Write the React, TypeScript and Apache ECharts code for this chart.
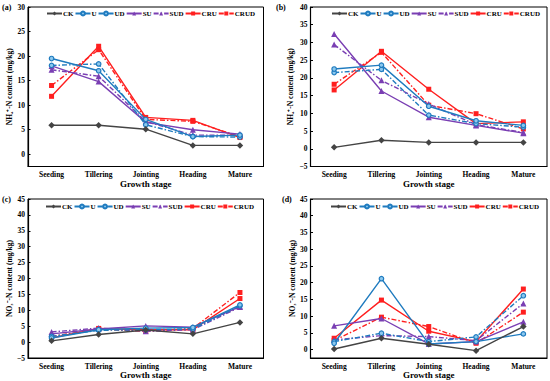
import React, { useEffect, useRef } from 'react';
import * as echarts from 'echarts';

const stages = ['Seeding', 'Tillering', 'Jointing', 'Heading', 'Mature'];
const seriesNames = ['CK', 'U', 'UD', 'SU', 'SUD', 'CRU', 'CRUD'];

// (a) NH4+-N
const a_CK = [5.9, 5.9, 5.1, 1.8, 1.8];
const a_U = [19.5, 17.0, 7.1, 3.6, 3.9];
const a_UD = [18.1, 18.4, 6.0, 3.6, 3.5];
const a_SU = [18.0, 14.8, 6.5, 5.0, 4.1];
const a_SUD = [17.2, 15.9, 6.7, 3.9, 3.9];
const a_CRU = [11.8, 22.0, 7.5, 6.9, 3.4];
const a_CRUD = [14.0, 21.3, 7.1, 6.7, 3.6];

// (b) NH4+-N
const b_CK = [0.4, 2.4, 1.8, 1.8, 1.8];
const b_U = [22.5, 23.6, 12.0, 7.9, 6.6];
const b_UD = [21.5, 22.4, 9.5, 7.1, 6.1];
const b_SU = [32.4, 16.3, 8.9, 6.6, 4.4];
const b_SUD = [29.4, 19.3, 12.6, 6.8, 4.6];
const b_CRU = [16.6, 27.5, 16.8, 7.1, 7.6];
const b_CRUD = [18.2, 27.2, 12.3, 9.9, 5.6];

// (c) NO3--N
const c_CK = [0.4, 2.4, 3.8, 2.6, 6.2];
const c_U = [1.3, 3.9, 4.4, 4.6, 11.7];
const c_UD = [1.8, 3.7, 3.9, 4.1, 11.4];
const c_SU = [2.6, 4.1, 5.1, 4.7, 11.2];
const c_SUD = [3.2, 4.4, 3.4, 3.9, 11.0];
const c_CRU = [1.3, 4.3, 3.9, 3.9, 13.7];
const c_CRUD = [1.8, 4.1, 3.4, 4.3, 15.6];

// (d) NO3--N
const d_CK = [0.2, 3.4, 1.6, -0.3, 6.9];
const d_U = [1.9, 21.2, 1.7, 2.4, 4.7];
const d_UD = [2.4, 4.9, 2.4, 3.8, 16.1];
const d_SU = [7.1, 9.3, 1.7, 2.4, 8.3];
const d_SUD = [2.9, 4.2, 3.9, 2.7, 13.8];
const d_CRU = [3.4, 14.8, 5.5, 2.4, 18.1];
const d_CRUD = [2.7, 9.7, 6.9, 1.9, 11.2];

const ticksA = [0, 5, 10, 15, 20, 25, 30];
const ticksB = [-5, 0, 5, 10, 15, 20, 25, 30, 35, 40];
const ticksC = [-5, 0, 5, 10, 15, 20, 25, 30, 35, 40, 45];
const ticksD = [0, 5, 10, 15, 20, 25, 30, 35, 40, 45];

const FONT = '"Liberation Serif", "Times New Roman", serif';
const DASHDOT = [5, 2, 1.5, 2];

const styles: Record<string, any> = {
  CK: { color: '#444444', symbol: 'diamond', size: 6.5, dash: 'solid' },
  U: { color: '#1f7bbf', symbol: 'circle', size: 4.5, dash: 'solid' },
  UD: { color: '#1f7bbf', symbol: 'circle', size: 4.5, dash: DASHDOT },
  SU: { color: '#7a3fb3', symbol: 'triangle', size: 6, dash: 'solid' },
  SUD: { color: '#7a3fb3', symbol: 'triangle', size: 6, dash: DASHDOT },
  CRU: { color: '#ff1f1f', symbol: 'rect', size: 5, dash: 'solid' },
  CRUD: { color: '#ff1f1f', symbol: 'rect', size: 5, dash: DASHDOT },
};

export default function App() {
  const ref = useRef<HTMLDivElement>(null);
  useEffect(() => {
    document.body.style.margin = '0';
    if (!ref.current) return;
    const chart = echarts.init(ref.current, undefined, { renderer: 'svg' });

    const panels = [
      { label: '(a)', lx: 2, ly: 3, grid: { left: 28, top: 7, width: 235.5, height: 159.5 }, min: -2.5, max: 30, ticks: ticksA, split: 7,
        yname: 'NH\u2084\u207A-N content (mg/kg)', ygap: 12, legendLeft: 46, legendTop: 10,
        data: [a_CK, a_U, a_UD, a_SU, a_SUD, a_CRU, a_CRUD] },
      { label: '(b)', lx: 276, ly: 3, grid: { left: 310.5, top: 7, width: 236.5, height: 159.5 }, min: -5, max: 40, ticks: ticksB, split: 9,
        yname: 'NH\u2084\u207A-N content (mg/kg)', ygap: 16, legendLeft: 331, legendTop: 10,
        data: [b_CK, b_U, b_UD, b_SU, b_SUD, b_CRU, b_CRUD] },
      { label: '(c)', lx: 2, ly: 195, grid: { left: 28, top: 199, width: 235.5, height: 159 }, min: -5, max: 45, ticks: ticksC, split: 10,
        yname: 'NO\u2083\u207B-N content (mg/kg)', ygap: 15, legendLeft: 45, legendTop: 203,
        data: [c_CK, c_U, c_UD, c_SU, c_SUD, c_CRU, c_CRUD] },
      { label: '(d)', lx: 282, ly: 195, grid: { left: 310.5, top: 199, width: 236.5, height: 159 }, min: -2.5, max: 45, ticks: ticksD, split: 10,
        yname: 'NO\u2083\u207B-N content (mg/kg)', ygap: 14, legendLeft: 330, legendTop: 203,
        data: [d_CK, d_U, d_UD, d_SU, d_SUD, d_CRU, d_CRUD] },
    ];

    const grid: any[] = [];
    const xAxis: any[] = [];
    const yAxis: any[] = [];
    const legend: any[] = [];
    const series: any[] = [];
    const graphic: any[] = [];

    panels.forEach((p, i) => {
      grid.push({ ...p.grid, show: true, borderColor: '#000', borderWidth: 1, backgroundColor: 'transparent' });
      xAxis.push({
        type: 'category', gridIndex: i, data: stages, boundaryGap: true,
        name: 'Growth stage', nameLocation: 'middle', nameGap: 11.5,
        nameTextStyle: { fontFamily: FONT, fontWeight: 'bold', fontSize: 9, color: '#000' },
        axisLine: { onZero: false, lineStyle: { color: '#000', width: 1.2 } },
        axisTick: { inside: true, alignWithLabel: true, length: 2.5, lineStyle: { color: '#000' } },
        axisLabel: { fontFamily: FONT, fontWeight: 'bold', fontSize: 7.5, color: '#000', margin: 4 },
        splitLine: { show: false },
      });
      yAxis.push({
        type: 'value', gridIndex: i, min: p.min, max: p.max, splitNumber: p.split,
        name: p.yname, nameLocation: 'middle', nameGap: p.ygap, nameRotate: 90,
        nameTextStyle: { fontFamily: FONT, fontWeight: 'bold', fontSize: 7.5, color: '#000' },
        axisLine: { show: true, onZero: false, lineStyle: { color: '#000', width: 1.2 } },
        axisTick: { show: true, inside: true, length: 2.5, lineStyle: { color: '#000' }, customValues: p.ticks },
        axisLabel: { fontFamily: FONT, fontWeight: 'bold', fontSize: 7.5, color: '#000', margin: 3, customValues: p.ticks,
          formatter: (v: number) => (v % 5 === 0 ? String(v).replace('-', '\u2212') : '') },
        splitLine: { show: false },
      });
      legend.push({
        left: p.legendLeft, top: p.legendTop, orient: 'horizontal', width: 218,
        data: seriesNames, itemWidth: 15, itemHeight: 5, itemGap: 1, padding: 0,
        textStyle: { fontFamily: FONT, fontWeight: 'bold', fontSize: 7, color: '#000', padding: [0, 0, 0, -4] },
      });
      seriesNames.forEach((n, k) => {
        const s = styles[n];
        series.push({
          name: n, type: 'line', xAxisIndex: i, yAxisIndex: i, data: p.data[k],
          symbol: s.symbol, symbolSize: s.size,
          lineStyle: { color: s.color, width: 1.4, type: s.dash },
          itemStyle: n === 'U' || n === 'UD'
            ? { color: '#8cc8ee', borderColor: s.color, borderWidth: 1.2 }
            : { color: s.color },
          z: 10 - k,
        });
      });
      graphic.push({
        type: 'text', left: p.lx, top: p.ly,
        style: { text: p.label, fontFamily: FONT, fontWeight: 'bold', fontSize: 8, fill: '#000' },
      });
    });

    chart.setOption({
      animation: false,
      backgroundColor: '#fff',
      grid, xAxis, yAxis, legend, series, graphic,
    });
    return () => chart.dispose();
  }, []);
  return <div ref={ref} style={{ width: 550, height: 381 }} />;
}
